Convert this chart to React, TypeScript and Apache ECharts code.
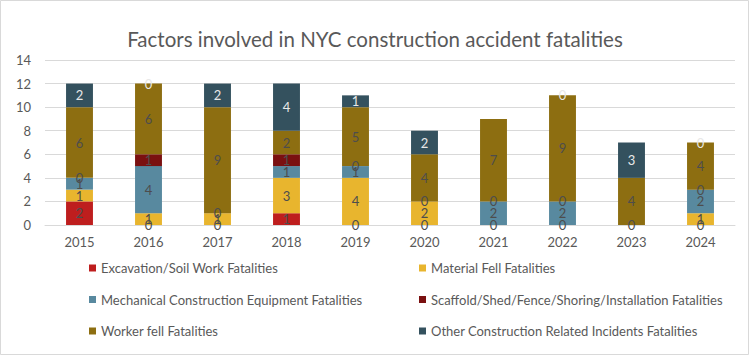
import React, { useEffect, useRef } from "react";
import * as echarts from "echarts";

const years = ["2015", "2016", "2017", "2018", "2019", "2020", "2021", "2022", "2023", "2024"];
const excavation = [2, 0, 0, 1, 0, 0, 0, 0, 0, 0];
const materialFell = [1, 1, 1, 3, 4, 2, null, null, null, 1];
const mechanical = [1, 4, 0, 1, 1, 0, 2, 2, null, 2];
const scaffold = [0, 1, null, 1, 0, null, 0, 0, null, 0];
const workerFell = [6, 6, 9, 2, 5, 4, 7, 9, 4, 4];
const other = [2, 0, 2, 4, 1, 2, null, 0, 3, 0];

const FONT = "Lato, 'Open Sans', sans-serif";

export default function App() {
  const ref = useRef<HTMLDivElement>(null);
  useEffect(() => {
    if (!ref.current) return;
    const chart = echarts.init(ref.current, null, { renderer: "svg" });
    const mk = (name: string, data: (number | null)[], color: string, labelColor: string) => ({
      name,
      type: "bar",
      stack: "total",
      data,
      barWidth: "39%",
      itemStyle: { color, borderWidth: 0 },
      label: {
        show: true,
        position: "inside",
        color: labelColor,
        fontSize: 13,
        fontFamily: FONT,
        formatter: (p: any) => (p.value === null || p.value === undefined ? "" : String(p.value)),
      },
    });
    const legendText = { color: "#595959", fontSize: 13, fontFamily: FONT, lineHeight: 14 };
    chart.setOption({
      animation: false,
      textStyle: { fontFamily: FONT },
      title: {
        text: "Factors involved in NYC construction accident fatalities",
        left: "center",
        top: 23,
        textStyle: { fontSize: 20.5, fontWeight: "normal", color: "#595959", fontFamily: FONT },
      },
      grid: { left: 45, right: 15, top: 60, bottom: 131, containLabel: false },
      xAxis: {
        type: "category",
        data: years,
        axisLine: { lineStyle: { color: "#d9d9d9" } },
        axisTick: { show: false },
        axisLabel: { color: "#595959", fontSize: 13, fontFamily: FONT, margin: 10 },
      },
      yAxis: {
        type: "value",
        min: 0,
        max: 14,
        interval: 2,
        axisLine: { show: false },
        axisTick: { show: false },
        axisLabel: { color: "#595959", fontSize: 13, fontFamily: FONT, margin: 14 },
        splitLine: { lineStyle: { color: "#d9d9d9" } },
      },
      legend: [
        {
          orient: "vertical",
          left: 84,
          top: 256,
          itemWidth: 7,
          itemHeight: 7,
          itemGap: 17.5,
          icon: "rect",
          textStyle: legendText,
          data: ["Excavation/Soil Work Fatalities", "Mechanical Construction Equipment Fatalities", "Worker fell Fatalities"],
        },
        {
          orient: "vertical",
          left: 414,
          top: 256,
          itemWidth: 7,
          itemHeight: 7,
          itemGap: 17.5,
          icon: "rect",
          textStyle: legendText,
          data: ["Material Fell Fatalities", "Scaffold/Shed/Fence/Shoring/Installation Fatalities", "Other Construction Related Incidents Fatalities"],
        },
      ],
      graphic: [
        {
          type: "rect",
          shape: { x: 0.5, y: 0.5, width: 748, height: 354 },
          style: { fill: "none", stroke: "#d9d9d9", lineWidth: 1 },
          silent: true,
        },
      ],
      series: [
        mk("Excavation/Soil Work Fatalities", excavation, "#BE1E1E", "#4d4d4d"),
        mk("Material Fell Fatalities", materialFell, "#E8B52E", "#4d4d4d"),
        mk("Mechanical Construction Equipment Fatalities", mechanical, "#58899F", "#4d4d4d"),
        mk("Scaffold/Shed/Fence/Shoring/Installation Fatalities", scaffold, "#7A1010", "#4d4d4d"),
        mk("Worker fell Fatalities", workerFell, "#8D6E11", "#4d4d4d"),
        mk("Other Construction Related Incidents Fatalities", other, "#34515E", "#e8e8e8"),
      ],
    });
    return () => chart.dispose();
  }, []);
  return (
    <div
      ref={ref}
      style={{ position: "fixed", left: 0, top: 0, width: 750, height: 356, background: "#fff" }}
    />
  );
}
